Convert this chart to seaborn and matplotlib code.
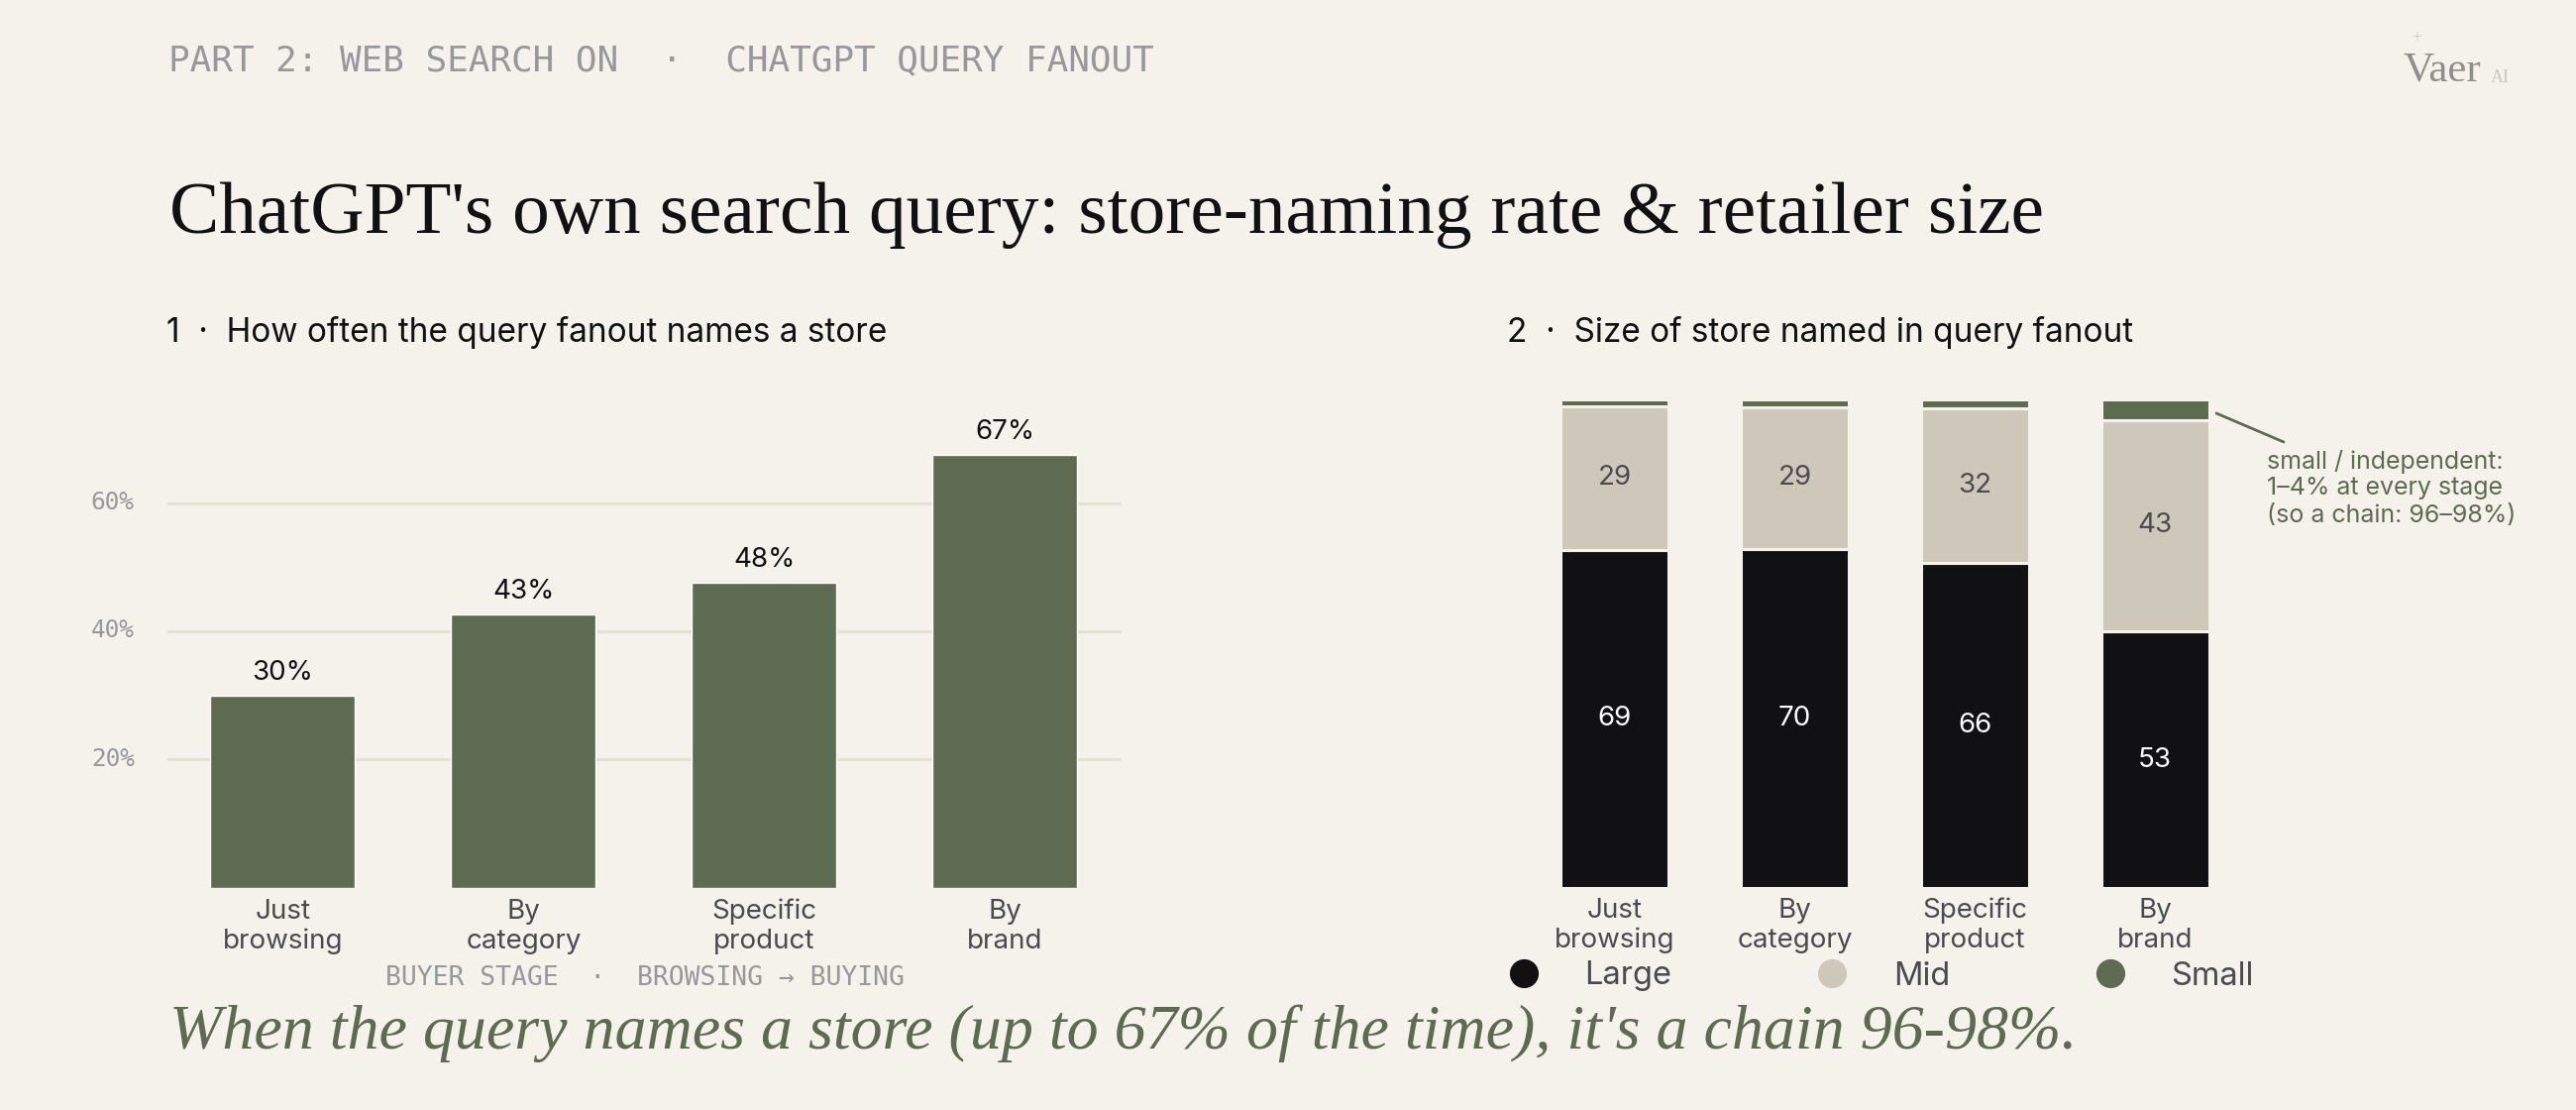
import matplotlib
matplotlib.use("Agg")
import matplotlib.pyplot as plt
import seaborn as sns
from matplotlib.lines import Line2D
from matplotlib.transforms import ScaledTranslation

stages = ["Just\nbrowsing", "By\ncategory", "Specific\nproduct", "By\nbrand"]

# chart 1: share of query fanouts naming a store
named_rate = [29.9, 42.6, 47.6, 67.5]
named_labels = ["30%", "43%", "48%", "67%"]
rate_ticks = [20, 40, 60]
rate_tick_labels = ["20%", "40%", "60%"]

# chart 2: store size, heights, labels as printed
large = [69.2, 69.4, 66.5, 52.5]
mid = [29.4, 29.0, 31.7, 43.3]
small = [1.4, 1.6, 1.8, 4.2]
large_labels = ["69", "70", "66", "53"]
mid_labels = ["29", "29", "32", "43"]

BG = "#F5F2EB"
GREEN = "#5D6B50"
SAND = "#CEC8BA"
INK = "#111113"
GRID = "#E3E0D6"
BODY = "#4A4A50"
MUTED = "#98989C"

SERIF = "Liberation Serif"
MONO = "DejaVu Sans Mono"
SANS = "Inter"

W, H = 2600, 1120


def fx(x):
    return x / W


def fy(y):
    return 1 - y / H


def axes_at(fig, left, top, right, bottom):
    return fig.add_axes([fx(left), fy(bottom), (right - left) / W, (bottom - top) / H])


sns.set_theme(style="white")
plt.rcParams["font.family"] = [SANS, "DejaVu Sans"]

fig = plt.figure(figsize=(W / 100, H / 100), dpi=100, facecolor=BG)

# header
fig.text(fx(170), fy(71), "PART 2: WEB SEARCH ON  ·  CHATGPT QUERY FANOUT",
         family=MONO, fontsize=25.9, color=MUTED, va="baseline")
fig.text(fx(171), fy(235), "ChatGPT's own search query: store-naming rate & retailer size",
         family=SERIF, fontsize=54.2, color=INK, va="baseline")
fig.text(fx(168), fy(345), "1  ·  How often the query fanout names a store",
         fontsize=24, color=INK, va="baseline")
fig.text(fx(1521), fy(345), "2  ·  Size of store named in query fanout",
         fontsize=24, color=INK, va="baseline")

# logo
fig.text(fx(2425), fy(82), "Vaer", family=SERIF, fontsize=31, color="#8E8E8C", va="baseline")
fig.text(fx(2514), fy(83), "AI", family=SERIF, fontsize=13, color="#C9C9C5", va="baseline")
fig.text(fx(2439), fy(39), "+", family=SERIF, fontsize=13, color="#C9C9C5", ha="center", va="center")

# chart 1
ax1 = axes_at(fig, 169, 403, 1132, 895.5)
ax1.set_facecolor(BG)
sns.barplot(x=stages, y=named_rate, color=GREEN, saturation=1, width=0.6,
            errorbar=None, zorder=3, ax=ax1)
ax1.set_xlim(-0.479, 3.484)
ax1.set_ylim(0, 76.2)
ax1.set_yticks(rate_ticks, rate_tick_labels, family=MONO, fontsize=17.6, color=MUTED)
ax1.yaxis.grid(True, color=GRID, linewidth=2.2, zorder=0)
ax1.set_axisbelow(True)
ax1.tick_params(axis="y", length=0, pad=24)
ax1.tick_params(axis="x", length=0, pad=8, labelsize=20, labelcolor=BODY)
# nudge the % labels up a little so they sit on their gridlines
for label in ax1.get_yticklabels():
    label.set_transform(label.get_transform() + ScaledTranslation(0, 0.03, fig.dpi_scale_trans))
ax1.bar_label(ax1.containers[0], labels=named_labels, padding=7.4, fontsize=20, color=INK)
ax1.set_xlabel("BUYER STAGE  ·  BROWSING → BUYING", family=[MONO], fontsize=19,
               color=MUTED, labelpad=8)
sns.despine(ax=ax1, left=True, bottom=True)

# chart 2
ax2 = axes_at(fig, 1539, 403, 2266, 896)
ax2.set_facecolor(BG)
bottom = [0.0, 0.0, 0.0, 0.0]
for values, color in zip([large, mid, small], [INK, SAND, GREEN]):
    sns.barplot(x=stages, y=values, bottom=bottom, color=color, saturation=1, width=0.6,
                edgecolor=BG, linewidth=2.2, errorbar=None, ax=ax2)
    bottom = [b + v for b, v in zip(bottom, values)]
ax2.set_xlim(-0.5, 3.5)
ax2.set_ylim(0, 100)
ax2.set_yticks([])
ax2.tick_params(axis="x", length=0, pad=7, labelsize=20, labelcolor=BODY)
ax2.bar_label(ax2.containers[0], labels=large_labels, label_type="center", padding=0,
              fontsize=20, color="white")
ax2.bar_label(ax2.containers[1], labels=mid_labels, label_type="center", padding=0,
              fontsize=20, color=BODY)
sns.despine(ax=ax2, left=True, bottom=True)

handles = [Line2D([], [], linestyle="none", marker="o", markersize=21, markeredgewidth=0, color=c)
           for c in [INK, SAND, GREEN]]
ax2.legend(handles, ["Large", "Mid", "Small"], ncol=3, frameon=False, fontsize=23.5,
           labelcolor=BODY, loc="center left", bbox_to_anchor=(fx(1521.5), fy(985)),
           bbox_transform=fig.transFigure, borderpad=0, borderaxespad=0,
           handlelength=1, handletextpad=1.39, columnspacing=4.45)

# callout for the small segment
fig.add_artist(Line2D([fx(2237), fx(2305)], [fy(417), fy(446)], color=GREEN, linewidth=2))
fig.text(fx(2288), fy(472.5), "small / independent:", fontsize=18, color=GREEN, va="baseline")
fig.text(fx(2288), fy(499.5), "1–4% at every stage", fontsize=18, color=GREEN, va="baseline")
fig.text(fx(2288), fy(526.5), "(so a chain: 96–98%)", fontsize=18, color=GREEN, va="baseline")

# takeaway
fig.text(fx(171), fy(1058), "When the query names a store (up to 67% of the time), it's a chain 96-98%.",
         family=SERIF, style="italic", fontsize=46.1, color=GREEN, va="baseline")

fig.savefig("out.png", dpi=100, facecolor=BG)
